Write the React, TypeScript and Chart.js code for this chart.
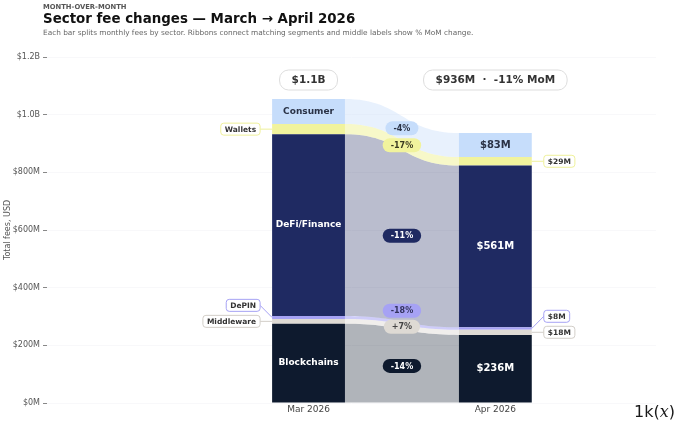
import React, { useEffect, useRef } from "react";
import { Chart, registerables } from "chart.js";

Chart.register(...registerables);

// ---------- data ----------
const periods = ["Mar 2026", "Apr 2026"];
const sectors = ["Blockchains", "Middleware", "DePIN", "DeFi/Finance", "Wallets", "Consumer"];
const marFees = [274.7, 16.9, 10.0, 630.7, 35.1, 86.8]; // $M
const aprFees = [236.2, 18.1, 8.2, 561.3, 29.1, 83.3]; // $M
const yTickValues = [0, 200, 400, 600, 800, 1000, 1200];

// ---------- styles ----------
const sectorColors = ["#0e1a2e", "#dedad4", "#a6a2f4", "#1f2a62", "#f1f39d", "#c6ddfb"];
const ribbonColors = [
  "rgba(14,26,46,0.33)",
  "rgba(222,218,212,0.45)",
  "rgba(166,162,244,0.55)",
  "rgba(31,42,98,0.31)",
  "rgba(241,243,157,0.55)",
  "rgba(198,221,251,0.4)",
];
const insideTextColors = ["#ffffff", "#333333", "#2e2e5a", "#ffffff", "#333322", "#2a3246"];
const pillTextColors = ["#ffffff", "#444444", "#33335e", "#ffffff", "#3a3a22", "#2a3246"];
const outlineColors = ["#0e1a2e", "#d2cec8", "#a6a2f4", "#1f2a62", "#eef09a", "#c6ddfb"];

const FONT = '"DejaVu Sans", sans-serif';

const fmtMoney = (v: number) =>
  v >= 1000 ? `$${(v / 1000).toFixed(1)}B` : `$${Math.round(v)}M`;
const fmtPct = (a: number, b: number) => {
  const p = Math.round((b / a - 1) * 100);
  return `${p > 0 ? "+" : ""}${p}%`;
};
const sum = (a: number[]) => a.reduce((s, v) => s + v, 0);

function pill(
  ctx: CanvasRenderingContext2D,
  cx: number,
  cy: number,
  text: string,
  font: string,
  padX: number,
  h: number,
  r: number,
  fill: string,
  stroke: string | null,
  color: string
) {
  ctx.font = font;
  const w = ctx.measureText(text).width + padX * 2;
  ctx.beginPath();
  (ctx as any).roundRect(cx - w / 2, cy - h / 2, w, h, r);
  ctx.fillStyle = fill;
  ctx.fill();
  if (stroke) {
    ctx.lineWidth = 1;
    ctx.strokeStyle = stroke;
    ctx.stroke();
  }
  ctx.fillStyle = color;
  ctx.textAlign = "center";
  ctx.textBaseline = "middle";
  ctx.fillText(text, cx, cy + 0.5);
  return w;
}

const sankeyPlugin = {
  id: "sankeyRibbons",
  beforeDatasetsDraw(chart: any) {
    const ctx = chart.ctx as CanvasRenderingContext2D;
    sectors.forEach((_, i) => {
      const meta = chart.getDatasetMeta(i);
      const e0 = meta.data[0] as any;
      const e1 = meta.data[1] as any;
      const x0 = e0.x + e0.width / 2;
      const x1 = e1.x - e1.width / 2;
      const xm = (x0 + x1) / 2;
      ctx.save();
      ctx.beginPath();
      ctx.moveTo(x0, e0.y);
      ctx.bezierCurveTo(xm, e0.y, xm, e1.y, x1, e1.y);
      ctx.lineTo(x1, e1.base);
      ctx.bezierCurveTo(xm, e1.base, xm, e0.base, x0, e0.base);
      ctx.closePath();
      ctx.fillStyle = ribbonColors[i];
      ctx.fill();
      ctx.restore();
    });
  },
  afterDatasetsDraw(chart: any) {
    const ctx = chart.ctx as CanvasRenderingContext2D;
    const area = chart.chartArea;
    ctx.save();
    const els0: any[] = [];
    const els1: any[] = [];
    sectors.forEach((_, i) => {
      const meta = chart.getDatasetMeta(i);
      els0.push(meta.data[0]);
      els1.push(meta.data[1]);
    });

    // middle % labels
    const midX = (els0[0].x + els0[0].width / 2 + els1[0].x - els1[0].width / 2) / 2;
    let prev = Infinity;
    sectors.forEach((_, i) => {
      const c0 = (els0[i].y + els0[i].base) / 2;
      const c1 = (els1[i].y + els1[i].base) / 2;
      const y = Math.min((c0 + c1) / 2, prev - 16);
      prev = y;
      pill(ctx, midX, y, fmtPct(marFees[i], aprFees[i]), `bold 8px ${FONT}`, 8, 14, 7,
        sectorColors[i], null, pillTextColors[i]);
    });

    // bar segment labels (inside or outside)
    const drawSide = (els: any[], side: "left" | "right", texts: string[], insideFont: string) => {
      let prevY = Infinity;
      els.forEach((e, i) => {
        const h = e.base - e.y;
        const cy = (e.y + e.base) / 2;
        if (h >= 14) {
          ctx.font = insideFont;
          ctx.fillStyle = insideTextColors[i];
          ctx.textAlign = "center";
          ctx.textBaseline = "middle";
          ctx.fillText(texts[i], e.x, cy);
          return;
        }
        const y = Math.min(cy, prevY - 16);
        prevY = y;
        ctx.font = `bold 7.5px ${FONT}`;
        const tw = ctx.measureText(texts[i]).width;
        const bw = tw + 8;
        const bh = 12;
        const edge = side === "left" ? e.x - e.width / 2 : e.x + e.width / 2;
        const bx = side === "left" ? edge - 12 - bw : edge + 12;
        const lx = side === "left" ? bx + bw : bx;
        ctx.beginPath();
        ctx.moveTo(lx, y);
        ctx.lineTo(edge, cy);
        ctx.strokeStyle = outlineColors[i];
        ctx.lineWidth = 1;
        ctx.stroke();
        ctx.beginPath();
        (ctx as any).roundRect(bx, y - bh / 2, bw, bh, 3);
        ctx.fillStyle = "#ffffff";
        ctx.fill();
        ctx.strokeStyle = outlineColors[i];
        ctx.stroke();
        ctx.fillStyle = "#333333";
        ctx.textAlign = "center";
        ctx.textBaseline = "middle";
        ctx.fillText(texts[i], bx + bw / 2, y + 0.5);
      });
    };
    drawSide(els0, "left", sectors, `bold 9px ${FONT}`);
    drawSide(els1, "right", aprFees.map(fmtMoney), `bold 10px ${FONT}`);

    // totals
    const totY = area.top + 23;
    const marTot = sum(marFees);
    const aprTot = sum(aprFees);
    pill(ctx, els0[0].x, totY, fmtMoney(marTot), `bold 10.5px ${FONT}`, 12, 20, 9,
      "#ffffff", "#dddddd", "#333333");
    pill(ctx, els1[0].x, totY, `${fmtMoney(aprTot)}  ·  ${fmtPct(marTot, aprTot)} MoM`,
      `bold 10.5px ${FONT}`, 12, 20, 9, "#ffffff", "#dddddd", "#333333");
    ctx.restore();
  },
};

export default function App() {
  const ref = useRef<HTMLCanvasElement | null>(null);

  useEffect(() => {
    if (!ref.current) return;
    Chart.defaults.font.family = FONT;
    const chart = new Chart(ref.current, {
      type: "bar",
      data: {
        datasets: sectors.map((s, i) => ({
          label: s,
          data: [
            { x: 0, y: marFees[i] },
            { x: 1, y: aprFees[i] },
          ],
          backgroundColor: sectorColors[i],
          borderWidth: 0,
          categoryPercentage: 1,
          barPercentage: 0.39,
        })),
      },
      options: {
        responsive: false,
        animation: false,
        events: [],
        layout: { padding: { top: 57, right: 24, bottom: 0, left: 0 } },
        plugins: { legend: { display: false }, tooltip: { enabled: false }, title: { display: false } },
        scales: {
          x: {
            type: "linear",
            stacked: true,
            offset: false,
            min: -1.4,
            max: 1.86,
            grid: { display: false, drawTicks: false, offset: false },
            border: { display: false },
            afterBuildTicks: (scale: any) => {
              scale.ticks = periods.map((_, i) => ({ value: i }));
            },
            afterFit: (scale: any) => {
              scale.height = 26;
            },
            ticks: {
              padding: 1,
              color: "#444",
              font: { size: 9, family: FONT },
              callback: (v: any) => periods[v as number] ?? "",
            },
          },
          y: {
            type: "linear",
            stacked: true,
            min: 0,
            max: 1200,
            grid: { color: "#f8f8fa", lineWidth: 1, drawTicks: true, tickLength: 4, tickColor: "#888" },
            border: { display: false },
            afterBuildTicks: (scale: any) => {
              scale.ticks = yTickValues.map((v) => ({ value: v }));
            },
            afterFit: (scale: any) => {
              scale.width = 47;
            },
            title: {
              display: true,
              text: "Total fees, USD",
              color: "#555",
              font: { size: 8, family: FONT },
              padding: { top: 3, bottom: 0 },
            },
            ticks: {
              padding: 3,
              color: "#555",
              font: { size: 8, family: FONT },
              callback: (v: any) => fmtMoney(v as number),
            },
          },
        },
      },
      plugins: [sankeyPlugin],
    } as any);
    return () => chart.destroy();
  }, []);

  return (
    <div
      style={{
        position: "fixed",
        left: 0,
        top: 0,
        width: 680,
        height: 429,
        background: "#fff",
        fontFamily: FONT,
        overflow: "hidden",
      }}
    >
      <canvas ref={ref} width={680} height={429} style={{ position: "absolute", left: 0, top: 0 }} />
      <div style={{ position: "absolute", left: 43, top: 4.2, fontSize: 6.8, lineHeight: 1, fontWeight: 700, color: "#555", whiteSpace: "nowrap" }}>
        MONTH-OVER-MONTH
      </div>
      <div style={{ position: "absolute", left: 43, top: 11.9, fontSize: 13.4, lineHeight: 1, fontWeight: 700, color: "#111", whiteSpace: "nowrap" }}>
        Sector fee changes — March → April 2026
      </div>
      <div style={{ position: "absolute", left: 43, top: 29.3, fontSize: 7.35, lineHeight: 1, color: "#666", whiteSpace: "nowrap" }}>
        Each bar splits monthly fees by sector. Ribbons connect matching segments and middle labels show % MoM change.
      </div>
      <div style={{ position: "absolute", right: 5, top: 404, fontSize: 16, lineHeight: 1, color: "#1a1a1a", whiteSpace: "nowrap" }}>
        1k(<span style={{ fontStyle: "italic", fontFamily: '"DejaVu Serif", serif' }}>x</span>)
      </div>
    </div>
  );
}
